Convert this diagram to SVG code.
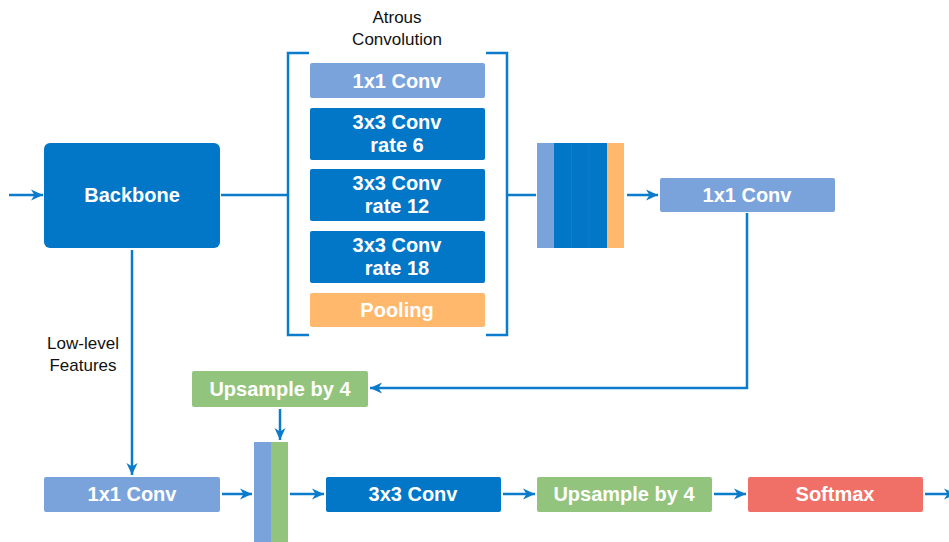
<svg xmlns="http://www.w3.org/2000/svg" width="949" height="542" viewBox="0 0 949 542">
<style>
.dk{fill:#0277C8}
.lb{fill:#7BA3DB}
.or{fill:#FFB86C}
.gr{fill:#93C47D}
.rd{fill:#F07067}
.t{font-family:"Liberation Sans",Arial,sans-serif;font-weight:bold;font-size:20px;fill:#fff;text-anchor:middle}
.lbl{font-family:"Liberation Sans",Arial,sans-serif;font-size:17px;fill:#111;text-anchor:middle}
.c{fill:none;stroke:#0B7BCB;stroke-width:2.5}
</style>
<defs>
<marker id="ah" markerUnits="userSpaceOnUse" markerWidth="14" markerHeight="12" refX="12" refY="6" orient="auto">
<path d="M0,0.5 L12,6 L0,11.5 L3.5,6 Z" fill="#0B7BCB"/>
</marker>
</defs>
<rect width="949" height="542" fill="#fff"/>
<g id="connectors">
<path class="c" d="M9,195 H43" marker-end="url(#ah)"/>
<path class="c" d="M221,195 H287"/>
<path class="c" d="M507,195 H536"/>
<path class="c" d="M627,195 H658" marker-end="url(#ah)"/>
<path class="c" d="M747,213 V388 H370" marker-end="url(#ah)"/>
<path class="c" d="M280,409 V440" marker-end="url(#ah)"/>
<path class="c" d="M132,250 V475" marker-end="url(#ah)"/>
<path class="c" d="M222,494 H252" marker-end="url(#ah)"/>
<path class="c" d="M290,494 H324" marker-end="url(#ah)"/>
<path class="c" d="M503,494 H535" marker-end="url(#ah)"/>
<path class="c" d="M714,494 H746" marker-end="url(#ah)"/>
<path class="c" d="M925,494 H956" marker-end="url(#ah)"/>
</g>
<g id="atrous-bracket">
<path class="c" d="M309,53 H288 V335 H309"/>
<path class="c" d="M486,53 H507 V335 H486"/>
<text class="lbl" x="397" y="23">Atrous</text>
<text class="lbl" x="397" y="45">Convolution</text>
</g>
<g id="backbone">
<rect class="dk" x="44" y="143" width="176" height="105" rx="6"/>
<text class="t" x="132" y="202">Backbone</text>
</g>
<g id="aspp-1x1">
<rect class="lb" x="310" y="63" width="175" height="35" rx="2"/>
<text class="t" x="397" y="88">1x1 Conv</text>
</g>
<g id="aspp-rate6">
<rect class="dk" x="310" y="108" width="175" height="52" rx="2"/>
<text class="t" x="397" y="129">3x3 Conv</text>
<text class="t" x="397" y="152">rate 6</text>
</g>
<g id="aspp-rate12">
<rect class="dk" x="310" y="169" width="175" height="52" rx="2"/>
<text class="t" x="397" y="190">3x3 Conv</text>
<text class="t" x="397" y="213">rate 12</text>
</g>
<g id="aspp-rate18">
<rect class="dk" x="310" y="231" width="175" height="52" rx="2"/>
<text class="t" x="397" y="252">3x3 Conv</text>
<text class="t" x="397" y="275">rate 18</text>
</g>
<g id="aspp-pooling">
<rect class="or" x="310" y="293" width="175" height="34" rx="2"/>
<text class="t" x="397" y="317">Pooling</text>
</g>
<g id="concat1">
<rect class="lb" x="537" y="143" width="17" height="105"/>
<rect class="dk" x="554" y="143" width="53" height="105"/>
<rect class="or" x="607" y="143" width="17" height="105"/>
<line x1="571.5" y1="143" x2="571.5" y2="248" stroke="#1a84cf" stroke-width="0.6"/>
<line x1="589" y1="143" x2="589" y2="248" stroke="#1a84cf" stroke-width="0.6"/>
</g>
<g id="enc-1x1">
<rect class="lb" x="660" y="178" width="175" height="34" rx="2"/>
<text class="t" x="747" y="202">1x1 Conv</text>
</g>
<g id="upsample-top">
<rect class="gr" x="192" y="371" width="176" height="36" rx="2"/>
<text class="t" x="280" y="396">Upsample by 4</text>
</g>
<g id="low-level-label">
<text class="lbl" x="83" y="349">Low-level</text>
<text class="lbl" x="83" y="371">Features</text>
</g>
<g id="dec-1x1">
<rect class="lb" x="44" y="477" width="176" height="35" rx="2"/>
<text class="t" x="132" y="501">1x1 Conv</text>
</g>
<g id="concat2">
<rect class="lb" x="254" y="442" width="17" height="100"/>
<rect class="gr" x="271" y="442" width="17" height="100"/>
</g>
<g id="dec-3x3">
<rect class="dk" x="326" y="477" width="175" height="35" rx="2"/>
<text class="t" x="413" y="501">3x3 Conv</text>
</g>
<g id="upsample-bottom">
<rect class="gr" x="537" y="477" width="175" height="35" rx="2"/>
<text class="t" x="624" y="501">Upsample by 4</text>
</g>
<g id="softmax">
<rect class="rd" x="748" y="477" width="175" height="35" rx="2"/>
<text class="t" x="835" y="501">Softmax</text>
</g>
</svg>
